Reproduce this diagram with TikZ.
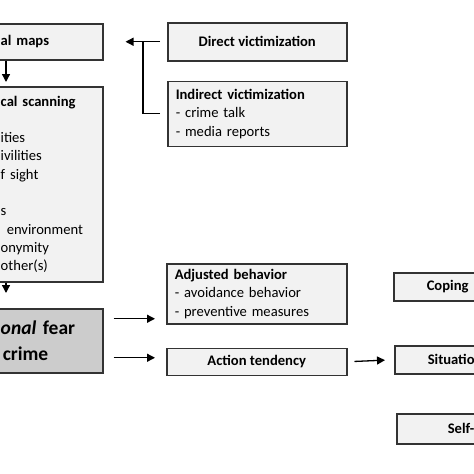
\documentclass[tikz,border=0pt]{standalone}
\usepackage{fontspec}
\setmainfont{Carlito}
\usetikzlibrary{positioning,arrows.meta,calc}

\begin{document}
\begin{tikzpicture}[x=1pt, y=-1pt, font=\fontsize{14.6}{18.3}\selectfont,
  box/.style={draw=black!80, line width=1.5pt, fill=gray!10, anchor=north west, inner sep=0pt, align=center},
  listbox/.style={box, align=left, inner xsep=8pt},
  link/.style={line width=1.3pt},
  arr/.style={link, -{Triangle[length=8pt,width=8pt]}}]
\useasboundingbox (0,0) rectangle (474,474);
\clip (0,0) rectangle (474,474);
% left column (cut at the border)
\node[listbox, inner xsep=5pt, text width=97pt, minimum height=36pt] (maps) at (-5,23) {\textbf{al maps}};
\node[listbox, inner xsep=5pt, text width=97pt, minimum height=195pt] (scan) at (-5,86)
  {\textbf{cal scanning}\\ \mbox{}\\ ities\\ ivilities\\ f sight\\ \mbox{}\\ s\\ \hspace*{6pt}environment\\ onymity\\ other(s)};
\node[listbox, fill=gray!40, inner xsep=5pt, text width=97pt, minimum height=64pt,
  font=\fontsize{19.5}{26}\selectfont\bfseries] (fear) at (-5,308) {\textit{onal} fear\\ \hspace*{2pt}crime};
% middle column
\node[box, minimum width=179pt, minimum height=38pt] (direct) at (167,22) {\textbf{Direct victimization}};
\node[listbox, text width=163pt, minimum height=65pt, below=19pt of direct.south west, anchor=north west] (indirect)
  {\textbf{Indirect victimization}\\ - crime talk\\ - media reports};
\node[listbox, text width=164pt, minimum height=60pt] (adjusted) at (166,263)
  {\textbf{Adjusted behavior}\\ - avoidance behavior\\ - preventive measures};
\node[box, minimum width=180pt, minimum height=27pt, below=23pt of adjusted.south west, anchor=north west] (action)
  {\textbf{Action tendency}};
% right column (cut at the border)
\node[listbox, inner xsep=33pt, text width=54pt, minimum height=28pt] (coping) at (393,272) {\textbf{Coping}};
\node[listbox, inner xsep=33pt, text width=54pt, minimum height=28pt] (situ) at (394,345) {\textbf{Situatio}};
\node[listbox, inner xsep=51pt, text width=40pt, minimum height=30pt] (self) at (396,413) {\textbf{Self-}};
% connectors
\coordinate (mx) at (6,0);
\draw[arr, shorten >=4pt] (maps.south -| mx) -- (scan.north -| mx);
\draw[arr, shorten >=15pt] (scan.south -| mx) -- (fear.north -| mx);
\draw[arr, shorten <=7pt, shorten >=22pt] (direct.west) -- (direct.west -| maps.east);
\coordinate (jn) at ($(direct.west)+(-24,0)$);
\draw[link, shorten <=7pt] (indirect.west) -| (jn);
\coordinate (f1) at ([yshift=22pt]fear.east);
\coordinate (f2) at ([yshift=-17pt]fear.east);
\draw[arr, shorten <=10pt, shorten >=11pt] (f1) -- (f1 -| adjusted.west);
\draw[arr, shorten <=10pt, shorten >=11pt] (f2) -- (f2 -| action.west);
\draw[arr, shorten <=7pt, shorten >=9pt] (action.east) -- (situ.west);
\end{tikzpicture}
\end{document}
